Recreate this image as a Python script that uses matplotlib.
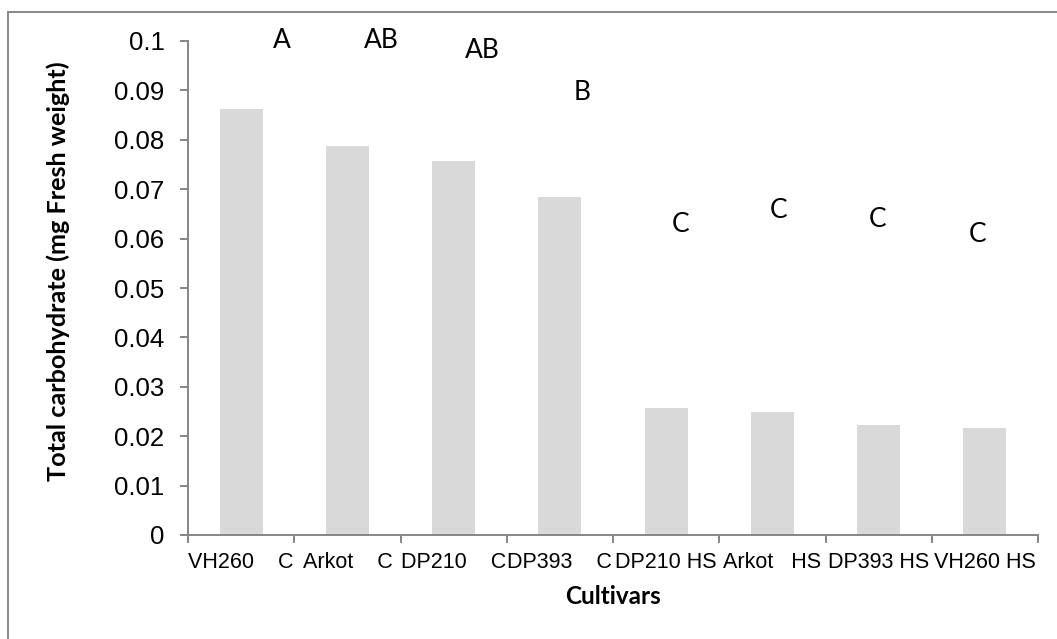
import numpy as np
import matplotlib
matplotlib.use('Agg')
import matplotlib.pyplot as plt
from matplotlib.lines import Line2D

# datos
cultivares = ['VH260    C', 'Arkot    C', 'DP210    C', 'DP393    C',
              'DP210 HS', 'Arkot   HS', 'DP393 HS', 'VH260 HS']
carbohidrato = [0.0862, 0.0787, 0.0757, 0.0684, 0.0257, 0.0249, 0.0223, 0.0217]
letras = ['A', 'AB', 'AB', 'B', 'C', 'C', 'C', 'C']

# posicion de las letras (solo maquetacion)
letras_dx = [0.385, 0.316, 0.267, 0.208, 0.131, 0.062, -0.006, -0.065]
letras_y = [0.1000, 0.1002, 0.0980, 0.0895, 0.0628, 0.0656, 0.0638, 0.0609]

plt.rcParams['font.family'] = ['Liberation Sans', 'DejaVu Sans']

fig = plt.figure(figsize=(10.57, 6.39), dpi=100)
ax = fig.add_axes([0.1779, 1 - 535 / 639, 0.8042, 494 / 639])

x = np.arange(len(cultivares))
ax.bar(x, carbohidrato, width=0.405, color='#d9d9d9')

for i, (l, dx, y) in enumerate(zip(letras, letras_dx, letras_y)):
    ax.text(i + dx, y, l, ha='center', va='center', fontsize=19,
            family='Lato', clip_on=False)

ax.set_xlim(-0.5, len(cultivares) - 0.5)
ax.set_ylim(0, 0.1)
ax.set_yticks(np.arange(0, 0.1001, 0.01))
ax.set_yticklabels(['0'] + [f'{v:g}' for v in np.round(np.arange(0.01, 0.1001, 0.01), 2)])

ax.set_xticks(x)
ax.set_xticklabels(cultivares, fontsize=15.5)
ax.set_xticks(np.arange(-0.5, len(cultivares)), minor=True)
ax.tick_params(axis='x', which='major', length=0, pad=12)
ax.tick_params(axis='x', which='minor', length=6, width=1.4, color='#868686')
ax.tick_params(axis='y', length=6, width=1.4, color='#868686', labelsize=18.5, pad=11)

for s in ['top', 'right']:
    ax.spines[s].set_visible(False)
for s in ['left', 'bottom']:
    ax.spines[s].set_color('#868686')
    ax.spines[s].set_linewidth(1.4)

# titulos de ejes
fig.text(58 / 1057, 1 - 271 / 639, 'Total carbohydrate (mg Fresh weight)',
         rotation=90, ha='center', va='center', fontsize=18.2,
         fontweight='bold', family='Lato')
fig.text(613 / 1057, 1 - 597 / 639, 'Cultivars', ha='center', va='center',
         fontsize=17.5, fontweight='bold', family='Lato')

# marco exterior
fig.add_artist(Line2D([8 / 1057, 8 / 1057], [0, 1 - 12 / 639], color='#888888', lw=1.4))
fig.add_artist(Line2D([8 / 1057, 1], [1 - 12 / 639, 1 - 12 / 639], color='#888888', lw=1.4))

fig.savefig('out.png', dpi=100)
